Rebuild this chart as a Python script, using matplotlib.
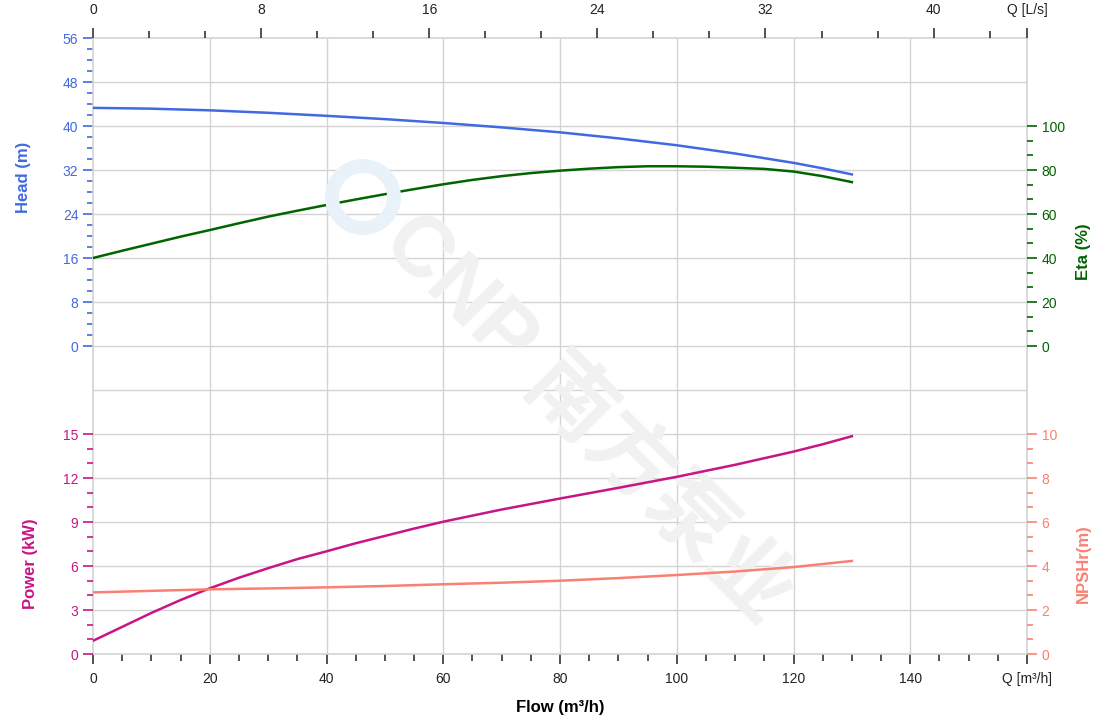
import matplotlib
matplotlib.use('Agg')
import matplotlib.pyplot as plt
import numpy as np
from matplotlib.ticker import MultipleLocator, FixedLocator

plt.rcParams['font.family'] = ['Liberation Sans', 'Noto Sans CJK SC', 'DejaVu Sans']

# Data
flow_h = [0, 10, 20, 30, 40, 50, 60, 70, 80, 90, 100, 110, 120, 125, 130]
head = [43.3, 43.15, 42.85, 42.4, 41.85, 41.25, 40.55, 39.75, 38.85, 37.75, 36.5, 35.0, 33.3, 32.3, 31.2]

flow_e = [0, 5, 10, 15, 20, 25, 30, 35, 40, 45, 50, 55, 60, 65, 70, 75, 80,
          85, 90, 95, 100, 105, 110, 115, 120, 125, 130]
eta = [40.0, 43.3, 46.5, 49.7, 52.7, 55.8, 58.8, 61.5, 64.1, 66.6, 69.0, 71.3, 73.5, 75.5, 77.2,
       78.6, 79.7, 80.6, 81.3, 81.7, 81.7, 81.5, 81.0, 80.5, 79.3, 77.2, 74.5]

flow_p = [0, 5, 10, 15, 20, 25, 30, 35, 40, 45, 50, 55, 60, 70, 80, 90, 100, 110, 120, 125, 130]
power = [0.9, 1.85, 2.8, 3.68, 4.48, 5.2, 5.85, 6.47, 7.0, 7.55, 8.05, 8.55, 9.02, 9.85, 10.6,
         11.33, 12.08, 12.9, 13.8, 14.3, 14.85]

flow_n = [0, 10, 20, 30, 40, 50, 60, 70, 80, 90, 100, 110, 120, 125, 130]
npsh = [2.80, 2.87, 2.94, 2.98, 3.03, 3.09, 3.17, 3.24, 3.33, 3.45, 3.59, 3.75, 3.95, 4.09, 4.23]

flow_ticks = [0, 20, 40, 60, 80, 100, 120, 140]
ls_ticks = [0, 8, 16, 24, 32, 40]
head_ticks = [0, 8, 16, 24, 32, 40, 48, 56]
eta_ticks = [0, 20, 40, 60, 80, 100]
power_ticks = [0, 3, 6, 9, 12, 15]
npsh_ticks = [0, 2, 4, 6, 8, 10]

c_head = '#4169E1'
c_eta = '#006400'
c_pow = '#C71585'
c_npsh = '#FA8072'
c_grid = '#d3d3d3'

W, H = 1120, 718
fig = plt.figure(figsize=(W / 100, H / 100), dpi=100)
x0, x1, y0, y1 = 93, 1027, 38, 654
ax = fig.add_axes([x0 / W, 1 - y1 / H, (x1 - x0) / W, (y1 - y0) / H])

ax.set_xlim(0, 160)
ax.set_ylim(-56, 56)
for s in ax.spines.values():
    s.set_color(c_grid)
    s.set_linewidth(1.2)

# grid
for v in np.arange(-48, 56, 8):
    ax.axhline(v, color=c_grid, lw=1, zorder=0)
for v in flow_ticks[1:]:
    ax.axvline(v, color=c_grid, lw=1, zorder=0)

# watermark
ax.text(0.528, 0.38, 'CNP 南方泵业', transform=ax.transAxes, rotation=-45,
        ha='center', va='center', fontsize=61, fontweight='bold',
        color='#f1f1f1', zorder=0,
        family=['Liberation Sans', 'Noto Sans CJK SC'])
ring = plt.Circle((363, H - 197), 31, transform=None, fill=False,
                  ec='#e9f1f9', lw=10, zorder=0)
fig.patches.append(ring)

# head on main axes
ax.plot(flow_h, head, color=c_head, lw=1.8, zorder=3)
ax.yaxis.set_major_locator(FixedLocator(head_ticks))
ax.yaxis.set_minor_locator(FixedLocator([v for v in np.arange(0, 57, 2) if v % 8]))
ax.tick_params(axis='y', which='both', colors=c_head, labelsize=10)
ax.tick_params(axis='y', which='major', length=7, width=1.2)
ax.tick_params(axis='y', which='minor', length=4, width=1.2)
ax.xaxis.set_major_locator(FixedLocator(flow_ticks + [160]))
ax.set_xticklabels([str(v) for v in flow_ticks] + ['Q [m³/h]'])
ax.xaxis.set_minor_locator(MultipleLocator(5))
ax.tick_params(axis='x', which='both', colors='#333333', labelsize=10, labelcolor='#222222')
ax.tick_params(axis='x', which='major', length=7, width=1.2, pad=6)
ax.tick_params(axis='x', which='minor', length=5, width=1.2)
ax.set_xlabel('Flow (m³/h)', fontsize=12, fontweight='bold', labelpad=10)
ax.set_ylabel('Head (m)', fontsize=12, fontweight='bold', color=c_head)
ax.yaxis.set_label_coords(-0.066, 0.773)

# power, left side
axp = ax.twinx()
axp.yaxis.tick_left()
axp.yaxis.set_label_position('left')
axp.set_ylim(0, 42)
axp.plot(flow_p, power, color=c_pow, lw=1.8, zorder=3)
axp.yaxis.set_major_locator(FixedLocator(power_ticks))
axp.yaxis.set_minor_locator(FixedLocator([v for v in range(0, 16) if v % 3]))
axp.tick_params(axis='y', which='both', colors=c_pow, labelsize=10)
axp.tick_params(axis='y', which='major', length=7, width=1.2)
axp.tick_params(axis='y', which='minor', length=4, width=1.2)
axp.set_ylabel('Power (kW)', fontsize=12, fontweight='bold', color=c_pow)
axp.yaxis.set_label_coords(-0.059, 0.146)

# eta, right side
axe = ax.twinx()
axe.set_ylim(-140, 140)
axe.plot(flow_e, eta, color=c_eta, lw=1.8, zorder=3)
axe.yaxis.set_major_locator(FixedLocator(eta_ticks))
axe.yaxis.set_minor_locator(FixedLocator([v for v in np.arange(0, 101, 20 / 3) if round(v, 3) % 20]))
axe.tick_params(axis='y', which='both', colors=c_eta, labelsize=10)
axe.tick_params(axis='y', which='major', length=7, width=1.2)
axe.tick_params(axis='y', which='minor', length=4, width=1.2)
axe.set_ylabel('Eta (%)', fontsize=12, fontweight='bold', color=c_eta)
axe.yaxis.set_label_coords(1.052, 0.653)

# npshr, right side
axn = ax.twinx()
axn.set_ylim(0, 28)
axn.plot(flow_n, npsh, color=c_npsh, lw=1.8, zorder=3)
axn.yaxis.set_major_locator(FixedLocator(npsh_ticks))
axn.yaxis.set_minor_locator(FixedLocator([v for v in np.arange(0, 10.01, 2 / 3) if round(v, 3) % 2]))
axn.tick_params(axis='y', which='both', colors=c_npsh, labelsize=10)
axn.tick_params(axis='y', which='major', length=7, width=1.2)
axn.tick_params(axis='y', which='minor', length=4, width=1.2)
axn.set_ylabel('NPSHr(m)', fontsize=12, fontweight='bold', color=c_npsh)
axn.yaxis.set_label_coords(1.052, 0.146)

for a in (axp, axe, axn):
    for s in a.spines.values():
        s.set_visible(False)
    a.set_xlim(0, 160)

# top axis in L/s
axt = ax.twiny()
axt.set_xlim(0, 160 / 3.6)
axt.xaxis.set_major_locator(FixedLocator(ls_ticks + [160 / 3.6]))
axt.set_xticklabels([str(v) for v in ls_ticks] + ['Q [L/s]'])
axt.xaxis.set_minor_locator(FixedLocator([v for v in np.arange(0, 44, 8 / 3) if round(v, 3) % 8]))
axt.tick_params(axis='x', which='both', colors='#333333', labelsize=10, labelcolor='#222222')
axt.tick_params(axis='x', which='major', length=7, width=1.2, pad=8)
axt.tick_params(axis='x', which='minor', length=5, width=1.2)
for s in axt.spines.values():
    s.set_visible(False)

fig.savefig('out.png', dpi=100)
